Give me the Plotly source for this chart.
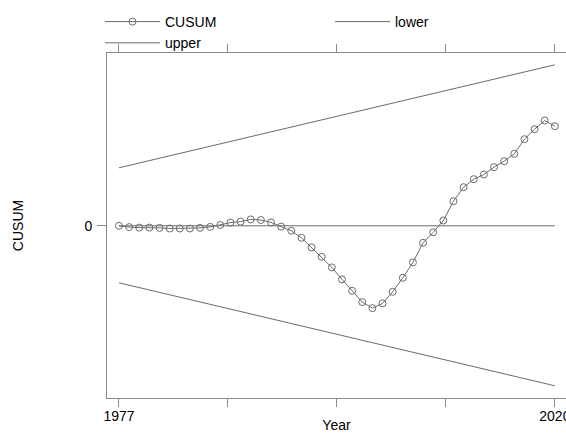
import plotly.graph_objects as go

years = list(range(1977, 2021))
cusum = [0, -1.3, -1.8, -1.8, -2.1, -2.7, -2.7, -2.7, -2.1, -1.1,
         0.8, 3.2, 4.2, 6.4, 5.8, 3.4, -0.8, -5, -12, -21.6,
         -31, -41.6, -53.6, -65, -76.3, -82.3, -77.6, -66, -52, -36.6,
         -17, -6.5, 5.3, 24.6, 38.6, 46.6, 51.3, 58.6, 64.6, 72,
         86.6, 96.6, 105.3, 99.6]
bound_years = [1977, 2020]
upper = [58, 161]
lower = [-57, -160]
zero_years = [1977, 2020]
zero_vals = [0, 0]
x_tickvals = [1977, 1987.75, 1998.5, 2009.25, 2020]
x_ticktext = ["1977", "", "", "", "2020"]
y_tickvals = [0]
y_ticktext = ["0"]

LINE = "#6b6b6b"
AX = "#8a8a8a"
FONT = "Liberation Sans, Arial, Helvetica, sans-serif"

fig = go.Figure()
fig.add_trace(go.Scatter(x=years, y=cusum, name="CUSUM", mode="lines+markers",
                         line=dict(color=LINE, width=1),
                         marker=dict(symbol="circle-open", size=7, color=LINE,
                                     line=dict(width=1, color=LINE)),
                         legendrank=1))
fig.add_trace(go.Scatter(x=bound_years, y=lower, name="lower", mode="lines",
                         line=dict(color=LINE, width=1), legendrank=2))
fig.add_trace(go.Scatter(x=bound_years, y=upper, name="upper", mode="lines",
                         line=dict(color=LINE, width=1), legendrank=3))
fig.add_trace(go.Scatter(x=zero_years, y=zero_vals, mode="lines", showlegend=False,
                         line=dict(color=LINE, width=1), hoverinfo="skip"))

fig.update_layout(
    width=566, height=433,
    margin=dict(l=107, r=0, t=53, b=35, autoexpand=False),
    paper_bgcolor="white", plot_bgcolor="white",
    font=dict(family=FONT, size=14, color="black"),
    legend=dict(orientation="h", x=100 / 566, xref="container", xanchor="left",
                y=1 - 6 / 433, yref="container", yanchor="top",
                entrywidth=160, itemwidth=55, font=dict(size=14),
                bgcolor="rgba(0,0,0,0)", tracegroupgap=0),
    xaxis=dict(range=[1975.82, 2021.1], tickvals=x_tickvals, ticktext=x_ticktext,
               ticks="outside", ticklen=8, tickcolor=AX, tickwidth=1,
               ticklabelstandoff=-3, ticklabeloverflow="allow",
               showline=True, linecolor=AX, linewidth=1, mirror="ticks",
               showgrid=False, zeroline=False,
               title=dict(text="Year", standoff=11, font=dict(size=14))),
    yaxis=dict(range=[-172.2, 172.8], tickvals=y_tickvals, ticktext=y_ticktext,
               ticks="outside", ticklen=9, tickcolor=AX, tickwidth=1,
               ticklabelstandoff=2,
               showline=True, linecolor=AX, linewidth=1,
               showgrid=False, zeroline=False,
               title=dict(text="CUSUM", standoff=57, font=dict(size=14))),
)
fig.write_html("out.html", post_script="document.body.style.margin='0';",
               config={"displayModeBar": False})
